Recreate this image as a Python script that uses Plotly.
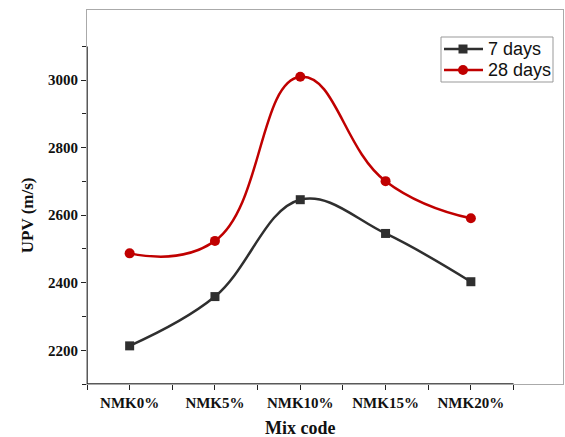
import plotly.graph_objects as go

categories = ["NMK0%", "NMK5%", "NMK10%", "NMK15%", "NMK20%"]
days7 = [2213, 2359, 2646, 2546, 2403]
days28 = [2487, 2524, 3010, 2701, 2591]
y_ticks = [2200, 2400, 2600, 2800, 3000]
series_names = ["7 days", "28 days"]
series_colors = ["#2f2f2f", "#c00000"]

xs = list(range(len(categories)))
fig = go.Figure()
fig.add_trace(go.Scatter(x=xs, y=days7, name=series_names[0], mode="lines+markers",
                         line=dict(color=series_colors[0], width=2.5, shape="spline", smoothing=1.1),
                         marker=dict(symbol="square", size=9, color=series_colors[0])))
fig.add_trace(go.Scatter(x=xs, y=days28, name=series_names[1], mode="lines+markers",
                         line=dict(color=series_colors[1], width=2.5, shape="spline", smoothing=1.3),
                         marker=dict(symbol="circle", size=10, color=series_colors[1])))

tickfont = dict(family="Liberation Serif", size=15, color="#111")
fig.update_layout(
    width=565, height=437,
    margin=dict(l=87, r=2, t=10, b=53),
    paper_bgcolor="white", plot_bgcolor="white",
    showlegend=False,
    xaxis=dict(range=[-0.5, 5.08], tickvals=xs, ticktext=["<b>%s</b>" % c for c in categories],
               ticks="outside", ticklen=5, tickcolor="#222", tickfont=tickfont,
               minor=dict(tickvals=[-0.5, 0.5, 1.5, 2.5, 3.5, 4.5], ticks="outside", ticklen=5, tickcolor="#222"),
               showline=True, linecolor="#aaa", linewidth=1, mirror=True, showgrid=False, zeroline=False),
    yaxis=dict(range=[2100, 3208], tickvals=y_ticks, ticktext=["<b>%d</b>" % v for v in y_ticks],
               ticks="outside", ticklen=5, tickcolor="#222", tickfont=tickfont,
               minor=dict(tickvals=[2100, 2300, 2500, 2700, 2900, 3100], ticks="outside", ticklen=4, tickcolor="#222"),
               showline=True, linecolor="#aaa", linewidth=1, mirror=True, showgrid=False, zeroline=False),
)
# black axis lines (Origin-style partial axes)
fig.add_shape(type="line", xref="x", yref="y", x0=-0.5, x1=4.5, y0=2100, y1=2100,
              line=dict(color="#222", width=1.5), layer="above")
fig.add_shape(type="line", xref="x", yref="y", x0=-0.5, x1=-0.5, y0=2100, y1=3100,
              line=dict(color="#222", width=1.5), layer="above")

# custom compact legend (pixel -> paper conversion)
W, H, L, T = 476.0, 374.0, 87.0, 10.0
def px(x):
    return (x - L) / W
def py(y):
    return 1 - (y - T) / H

fig.add_shape(type="rect", xref="paper", yref="paper", x0=px(441), x1=px(553), y0=py(37), y1=py(82),
              line=dict(color="#999", width=1), fillcolor="white", layer="above")
rows = [49, 70]
symbols = ["rect", "circle"]
for name, color, sym, ry in zip(series_names, series_colors, symbols, rows):
    fig.add_shape(type="line", xref="paper", yref="paper", x0=px(444), x1=px(483), y0=py(ry), y1=py(ry),
                  line=dict(color=color, width=2.5), layer="above")
    r = 4.5 if sym == "rect" else 5
    fig.add_shape(type=sym, xref="paper", yref="paper", x0=px(463 - r), x1=px(463 + r),
                  y0=py(ry - r), y1=py(ry + r), line=dict(color=color, width=0),
                  fillcolor=color, layer="above")
    fig.add_annotation(text=name, xref="paper", yref="paper", x=px(486), y=py(ry),
                       xanchor="left", yanchor="middle", showarrow=False,
                       font=dict(family="Liberation Sans", size=18, color="#111"))

fig.add_annotation(text="<b>Mix code</b>", xref="x", yref="paper", x=2, y=0, yshift=-44,
                   showarrow=False, yanchor="middle",
                   font=dict(family="Liberation Serif", size=18, color="#111"))
fig.add_annotation(text="<b>UPV (m/s)</b>", xref="paper", yref="y", x=0, y=2600, xshift=-60,
                   showarrow=False, textangle=-90, xanchor="center",
                   font=dict(family="Liberation Serif", size=17, color="#111"))

fig.write_html("out.html")
